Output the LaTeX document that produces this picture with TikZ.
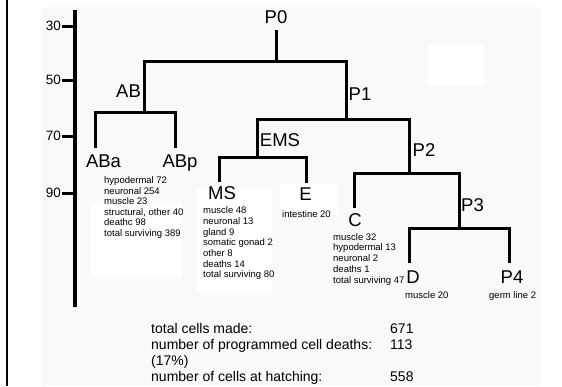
\documentclass[tikz,border=0pt]{standalone}
\usepackage{fontspec}
\setmainfont{Liberation Sans}
\definecolor{bggray}{RGB}{249,249,249}
\begin{document}
\begin{tikzpicture}[x=1pt,y=-1pt,
  tree/.style={line width=3pt,line join=miter},
  lab/.style={anchor=base,inner sep=0pt,font=\fontsize{18.5}{20}\selectfont},
  small/.style={anchor=north west,inner sep=0pt,align=left,font=\fontsize{9.5}{10.7}\selectfont},
  bot/.style={anchor=base west,inner sep=0pt,font=\fontsize{14}{16}\selectfont},
  ticklab/.style={anchor=east,inner sep=0pt,font=\fontsize{13.5}{15}\selectfont},
  tickline/.style={line width=3pt},
  patch/.style={fill=white,draw=none}]
\useasboundingbox (0,0) rectangle (562,386);
% background
\fill[white] (0,0) rectangle (562,386);
\fill[bggray] (42,7) rectangle (541,386);
\fill[patch] (428,45) rectangle (484,86);
\fill[patch] (91,203) rectangle (182,277);
\fill[patch] (197,188) rectangle (272,293);
\fill[patch] (280,184) rectangle (338,215);
\draw[line width=1.5pt] (7,0) -- (7,386);

% axis
\coordinate (axtop) at (75,10);
\coordinate (axbot) at (75,307);
\draw[line width=3.5pt] (axtop) -- (axbot);
\foreach \v/\yy in {30/26,50/80,70/136,90/193}{
  \node[ticklab] (y\v) at (61,\yy) {\v};
  \coordinate (ts\v) at (62,\yy);
  \coordinate (te\v) at (75,\yy);
  \draw[tickline] (ts\v) -- (te\v);
}

% tree coordinates
\coordinate (P0top) at (276,30);
\coordinate (P0j) at (276,61);
\coordinate (ABj) at (144,112);
\coordinate (P1j) at (346,119);
\coordinate (ABaE) at (95,148);
\coordinate (ABpE) at (175,148);
\coordinate (EMSj) at (257,157);
\coordinate (P2j) at (409,173);
\coordinate (MSE) at (219,182);
\coordinate (EE) at (306,183);
\coordinate (CE) at (354,208);
\coordinate (P3j) at (459,228);
\coordinate (DE) at (409,263);
\coordinate (P4E) at (509,263);

\draw[tree] (P0top) -- (P0j);
\draw[tree] (ABj) |- (P0j) -| (P1j);
\draw[tree] (ABaE) |- (ABj) -| (ABpE);
\draw[tree] (EMSj) |- (P1j) -| (P2j);
\draw[tree] (MSE) |- (EMSj) -| (EE);
\draw[tree] (CE) |- (P2j) -| (P3j);
\draw[tree] (DE) |- (P3j) -| (P4E);

% labels
\node[lab] (P0) at (276,23) {P0};
\node[lab] (AB) at (128.5,97) {AB};
\node[lab] (P1) at (360,100.5) {P1};
\node[lab] (ABa) at (103.5,167) {ABa};
\node[lab] (ABp) at (180,167) {ABp};
\node[lab] (EMS) at (280,146.5) {EMS};
\node[lab] (P2) at (424,156) {P2};
\node[lab] (MS) at (222,199.5) {MS};
\node[lab] (E) at (305.5,200) {E};
\node[lab] (C) at (355,226) {C};
\node[lab] (P3) at (472.5,211.5) {P3};
\node[lab] (D) at (413,283) {D};
\node[lab] (P4) at (512,283) {P4};

% lists
\node[small,font=\fontsize{9.5}{10.5}\selectfont] (ABaL) at (104,176.6)
  {hypodermal 72\\neuronal 254\\muscle 23\\structural, other 40\\deathc 98\\total surviving 389};
\node[small] (MSL) at (203,206.6)
  {muscle 48\\neuronal 13\\gland 9\\somatic gonad 2\\other 8\\deaths 14\\total surviving 80};
\node[small] (EL) at (282,210.1) {intestine 20};
\node[small,font=\fontsize{9.5}{10.8}\selectfont] (CL) at (333,233.1)
  {muscle 32\\hypodermal 13\\neuronal 2\\deaths 1\\total surviving 47};
\node[small] (DL) at (405,291.1) {muscle 20};
\node[small] (P4L) at (489,291.1) {germ line 2};

% bottom summary
\node[bot] (b1) at (151,333) {total cells made:};
\node[bot] (b2) at (151,349) {number of programmed cell deaths:};
\node[bot] (b3) at (151,365) {(17\%)};
\node[bot] (b4) at (151,381) {number of cells at hatching:};
\node[bot] (v1) at (390,333) {671};
\node[bot] (v2) at (390,349) {113};
\node[bot] (v4) at (390,381) {558};
\end{tikzpicture}
\end{document}
